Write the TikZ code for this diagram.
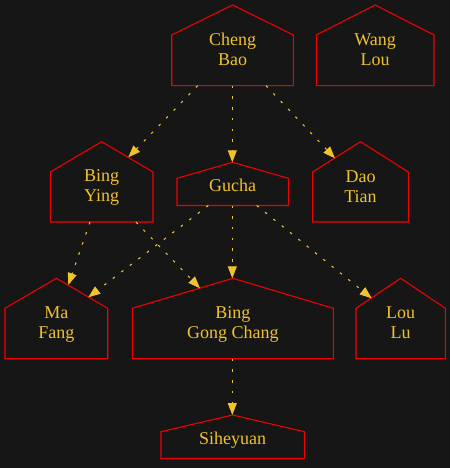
\documentclass[tikz,border=0pt]{standalone}
\usepackage{fontspec}
\setmainfont{Liberation Serif}
\usetikzlibrary{arrows.meta}
\definecolor{bg}{HTML}{161616}
\definecolor{hred}{HTML}{F00000}
\definecolor{gold}{HTML}{F0C22E}
\tikzset{
  houseline/.style={draw=hred, line width=1.1pt, line join=miter},
  lbl/.style={text=gold, font=\fontsize{18}{20}\selectfont, align=center, inner sep=0pt},
  link/.style={draw=gold, line width=1.1pt, dash pattern=on 2.5pt off 8.2pt,
    -{Triangle[length=12pt,width=9pt]}},
}
% name, left, right, apex y, shoulder y, bottom y, text centre y, text
\newcommand\hs[8]{%
  \draw[houseline] (#2pt,-#6pt) -- (#2pt,-#5pt) -- ({(#2+#3)/2*1pt},-#4pt)
    -- (#3pt,-#5pt) -- (#3pt,-#6pt) -- cycle;
  \node[lbl] (#1) at ({(#2+#3)/2*1pt},-#7pt) {#8};
}
\begin{document}
\begin{tikzpicture}
\useasboundingbox (0,0) rectangle (450pt,-468pt);
\fill[bg] (0,0) rectangle (450pt,-468pt);

\hs{cb}{171.7}{293.3}{5}{35}{85.7}{52}{\strut Cheng\\\strut Bao}
\hs{wl}{316.3}{434}{5}{35}{85.7}{52}{\strut Wang\\\strut Lou}
\hs{by}{50.3}{153}{141.7}{172}{222}{187.3}{\strut Bing\\\strut Ying}
\hs{gu}{177}{288.3}{162.3}{178.3}{205.5}{187.3}{\strut Gucha}
\hs{dt}{312.7}{408.3}{141.7}{172}{222}{188}{\strut Dao\\\strut Tian}
\hs{mf}{5}{107.7}{278.3}{308.3}{358.7}{324.6}{\strut Ma\\\strut Fang}
\hs{bgc}{132.3}{333.3}{278.3}{308.3}{358.7}{324.6}{\strut Bing\\\strut Gong Chang}
\hs{ll}{356}{445.3}{278.3}{308.3}{358.7}{324.6}{\strut Lou\\\strut Lu}
\hs{sy}{161}{304.3}{415}{431.7}{458.3}{440.6}{\strut Siheyuan}

% connector ends
\coordinate (cb-o1) at (197.7pt,-85.7pt);
\coordinate (cb-o2) at (232.3pt,-85.7pt);
\coordinate (cb-o3) at (266pt,-85.7pt);
\coordinate (by-i) at (128.3pt,-157.3pt);
\coordinate (gu-i) at (232.3pt,-162.3pt);
\coordinate (dt-i) at (335pt,-158.3pt);
\coordinate (by-o1) at (90pt,-222pt);
\coordinate (by-o2) at (136pt,-222pt);
\coordinate (gu-o1) at (208.3pt,-205.5pt);
\coordinate (gu-o2) at (232.3pt,-205.5pt);
\coordinate (gu-o3) at (256.7pt,-205.5pt);
\coordinate (mf-i1) at (68.3pt,-285pt);
\coordinate (mf-i2) at (88.3pt,-297.3pt);
\coordinate (bgc-i1) at (200pt,-288.3pt);
\coordinate (bgc-i2) at (232.3pt,-278.3pt);
\coordinate (ll-i) at (371.7pt,-298.3pt);
\coordinate (bgc-o) at (232.3pt,-358.7pt);
\coordinate (sy-i) at (232.3pt,-415pt);

\draw[link] (cb-o1) -- (by-i);
\draw[link] (cb-o2) -- (gu-i);
\draw[link] (cb-o3) -- (dt-i);
\draw[link] (by-o1) -- (mf-i1);
\draw[link] (by-o2) -- (bgc-i1);
\draw[link] (gu-o1) -- (mf-i2);
\draw[link] (gu-o2) -- (bgc-i2);
\draw[link] (gu-o3) -- (ll-i);
\draw[link] (bgc-o) -- (sy-i);
\end{tikzpicture}
\end{document}
